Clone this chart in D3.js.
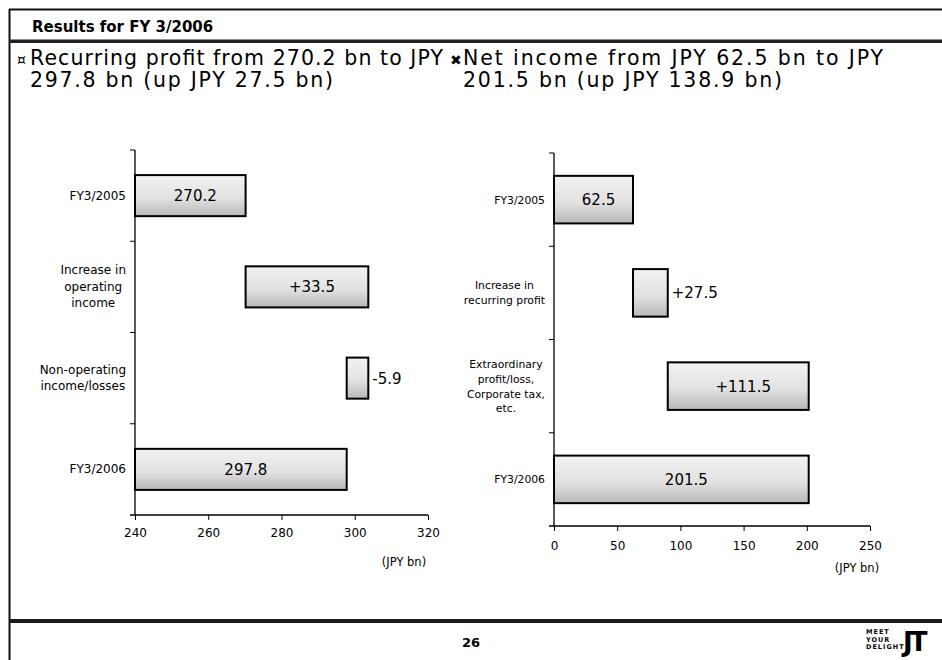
<!DOCTYPE html>
<html>
<head>
<meta charset="utf-8">
<script src="https://cdn.jsdelivr.net/npm/d3@7/dist/d3.min.js"></script>
<style>
  html, body { margin: 0; padding: 0; background: #fff; }
  svg { display: block; }
  text { font-family: "DejaVu Sans", Verdana, sans-serif; fill: #000; }
</style>
</head>
<body>
<svg id="chart" width="942" height="660"></svg>
<script>
// ---------- data ----------
const pageTitle = "Results for FY 3/2006";
const leftHeadline = ["Recurring profit from 270.2 bn to JPY", "297.8 bn (up JPY 27.5 bn)"];
const rightHeadline = ["Net income from JPY 62.5 bn to JPY", "201.5 bn (up JPY 138.9 bn)"];

const leftCategories = [["FY3/2005"], ["Increase in", "operating", "income"], ["Non-operating", "income/losses"], ["FY3/2006"]];
const leftValues = [270.2, 33.5, -5.9, 297.8];
const leftKinds = ["total", "delta", "delta", "total"];
const leftLabels = ["270.2", "+33.5", "-5.9", "297.8"];
const leftTicks = [240, 260, 280, 300, 320];

const rightCategories = [["FY3/2005"], ["Increase in", "recurring profit"], ["Extraordinary", "profit/loss,", "Corporate tax,", "etc."], ["FY3/2006"]];
const rightValues = [62.5, 27.5, 111.5, 201.5];
const rightKinds = ["total", "delta", "delta", "total"];
const rightLabels = ["62.5", "+27.5", "+111.5", "201.5"];
const rightTicks = [0, 50, 100, 150, 200, 250];

const unitLabel = "(JPY bn)";
const pageNumber = "26";

// ---------- drawing ----------
const svg = d3.select("#chart");
const defs = svg.append("defs");
const grad = defs.append("linearGradient").attr("id", "barFill").attr("x1", 0).attr("y1", 0).attr("x2", 0).attr("y2", 1);
grad.append("stop").attr("offset", "0%").attr("stop-color", "#f2f2f2");
grad.append("stop").attr("offset", "55%").attr("stop-color", "#e2e2e2");
grad.append("stop").attr("offset", "100%").attr("stop-color", "#b8b8b8");

// frame
svg.append("line").attr("x1", 9).attr("x2", 942).attr("y1", 9.5).attr("y2", 9.5).attr("stroke", "#111").attr("stroke-width", 2);
svg.append("line").attr("x1", 9.5).attr("x2", 9.5).attr("y1", 9).attr("y2", 660).attr("stroke", "#111").attr("stroke-width", 2);
svg.append("rect").attr("x", 9).attr("y", 39.5).attr("width", 933).attr("height", 3.5).attr("fill", "#222");
svg.append("rect").attr("x", 9).attr("y", 619).attr("width", 933).attr("height", 4).attr("fill", "#1a1a1a");

svg.append("text").attr("x", 32).attr("y", 32).attr("font-size", 15).attr("font-weight", "bold").text(pageTitle);

function headline(x, bullet, lines, widths) {
  svg.append("text").attr("x", x).attr("y", 65).attr("font-size", 14).text(bullet);
  lines.forEach((l, i) => {
    svg.append("text").attr("x", x + 13).attr("y", 65 + i * 22).attr("font-size", 20.5)
      .attr("textLength", widths[i]).attr("lengthAdjust", "spacing").text(l);
  });
}
headline(17, "¤", leftHeadline, [413, 303]);
headline(450, "✖", rightHeadline, [420, 319]);

svg.append("text").attr("x", 471).attr("y", 647).attr("font-size", 13).attr("font-weight", "bold").attr("text-anchor", "middle").text(pageNumber);
const logo = svg.append("g");
["MEET", "YOUR", "DELIGHT"].forEach((w, i) => {
  logo.append("text").attr("x", 866).attr("y", 634 + i * 7.5).attr("font-size", 6.5).attr("font-weight", "bold").attr("letter-spacing", 1).text(w);
});
logo.append("text").attr("x", 903).attr("y", 651).attr("font-size", 26).attr("font-weight", "bold")
  .attr("font-family", "'Liberation Serif', serif").attr("letter-spacing", -3).text("JT");

function waterfall(cfg) {
  const { categories, values, kinds, labels, ticks, xRange, yRange, padding, unitPos, catFont, tickPad } = cfg;
  const x = d3.scaleLinear().domain([ticks[0], ticks[ticks.length - 1]]).range(xRange);
  const y = d3.scaleBand().domain(d3.range(categories.length)).range(yRange).paddingInner(padding).paddingOuter(padding / 2);
  const g = svg.append("g");

  let run = 0;
  const segs = values.map((v, i) => {
    let a, b;
    if (kinds[i] === "total") { a = ticks[0]; b = v; run = v; }
    else { a = run; b = run + v; run = b; }
    return { i, a: Math.min(a, b), b: Math.max(a, b), label: labels[i] };
  });

  const y0 = yRange[0], y1 = yRange[1];
  const step = (y1 - y0) / categories.length;
  g.append("line").attr("x1", xRange[0]).attr("x2", xRange[0]).attr("y1", y0).attr("y2", y1).attr("stroke", "#000").attr("stroke-width", 1.3);
  d3.range(categories.length).forEach(k => {
    g.append("line").attr("x1", xRange[0] - 5).attr("x2", xRange[0]).attr("y1", y0 + k * step).attr("y2", y0 + k * step).attr("stroke", "#000");
  });

  const xAxis = d3.axisBottom(x).tickValues(ticks).tickSize(5).tickPadding(tickPad).tickFormat(d3.format("d"));
  const ax = g.append("g").attr("transform", `translate(0,${y1})`).call(xAxis);
  ax.select(".domain").attr("stroke", "#000").attr("stroke-width", 1.3).attr("d", `M${xRange[0]-5},0H${xRange[1]}`);
  ax.selectAll(".tick line").attr("stroke", "#000");
  ax.selectAll(".tick text").attr("font-size", 12).attr("font-family", "'DejaVu Sans', sans-serif").attr("fill", "#000");

  g.selectAll("rect.bar").data(segs).join("rect").attr("class", "bar")
    .attr("x", d => x(d.a)).attr("width", d => x(d.b) - x(d.a))
    .attr("y", d => y(d.i)).attr("height", y.bandwidth())
    .attr("fill", "url(#barFill)").attr("stroke", "#000").attr("stroke-width", 2);

  g.selectAll("text.val").data(segs).join("text").attr("class", "val")
    .attr("font-size", 15)
    .attr("x", d => (x(d.b) - x(d.a) < 45) ? x(d.b) + 4 : (x(d.a) + x(d.b)) / 2 + 5)
    .attr("text-anchor", d => (x(d.b) - x(d.a) < 45) ? "start" : "middle")
    .attr("y", d => y(d.i) + y.bandwidth() / 2 + 5.5)
    .text(d => d.label);

  categories.forEach((lines, i) => {
    const lh = catFont * 1.38;
    const cy = y(i) + y.bandwidth() / 2;
    const t = g.append("g");
    const texts = lines.map((l, j) => t.append("text").attr("font-size", catFont)
      .attr("y", cy + (j - (lines.length - 1) / 2) * lh + 4).text(l));
    const w = d3.max(texts, tx => tx.node().getComputedTextLength());
    const cx = xRange[0] - 9 - w / 2;
    texts.forEach(tx => tx.attr("x", cx).attr("text-anchor", "middle"));
  });

  g.append("text").attr("x", unitPos[0]).attr("y", unitPos[1]).attr("font-size", 11.5).attr("text-anchor", "middle").text(unitLabel);
}

waterfall({ categories: leftCategories, values: leftValues, kinds: leftKinds, labels: leftLabels, ticks: leftTicks,
  xRange: [135, 428], yRange: [150, 515], padding: 0.55, unitPos: [404, 566], catFont: 12, tickPad: 8 });
waterfall({ categories: rightCategories, values: rightValues, kinds: rightKinds, labels: rightLabels, ticks: rightTicks,
  xRange: [554, 870], yRange: [153, 526], padding: 0.49, unitPos: [857, 572], catFont: 10.8, tickPad: 10 });
</script>
</body>
</html>
